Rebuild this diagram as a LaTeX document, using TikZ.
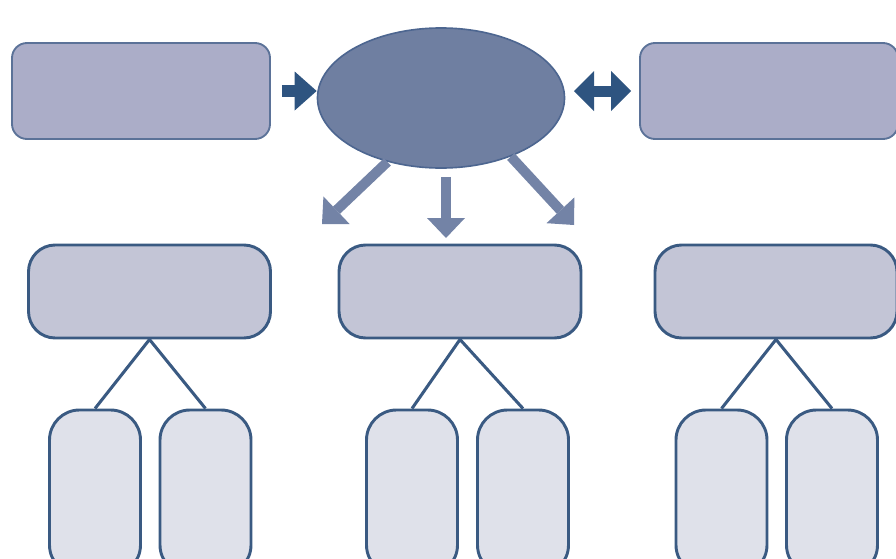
\documentclass[tikz,border=0pt]{standalone}
\usepackage{tikz}
\usetikzlibrary{shapes.geometric,arrows.meta}

\definecolor{topfill}{HTML}{ABADC8}
\definecolor{topline}{HTML}{5B7298}
\definecolor{hubfill}{HTML}{6F7FA1}
\definecolor{hubline}{HTML}{4D6690}
\definecolor{midfill}{HTML}{C3C5D6}
\definecolor{leaffill}{HTML}{DFE1EA}
\definecolor{boxline}{HTML}{3A5A82}
\definecolor{darkarrow}{HTML}{2E5480}
\definecolor{lightarrow}{HTML}{7383A6}

\tikzset{
  topbox/.style={draw=topline, line width=1.6pt, fill=topfill, rounded corners=0.45cm, minimum width=7.74cm, minimum height=2.88cm},
  midbox/.style={draw=boxline, line width=2.5pt, fill=midfill, rounded corners=0.8cm, minimum width=7.26cm, minimum height=2.79cm},
  leafbox/.style={draw=boxline, line width=2.5pt, fill=leaffill, rounded corners=0.9cm, minimum width=2.73cm, minimum height=4.95cm},
  hub/.style={draw=hubline, line width=1.4pt, fill=hubfill, ellipse, inner sep=0pt, minimum width=7.41cm, minimum height=4.2cm},
  bigarrow/.style={draw=darkarrow, line width=0.36cm, -{Triangle[width=1.17cm, length=0.66cm, line width=0pt]}},
  twoarrow/.style={draw=darkarrow, line width=0.33cm, {Triangle[width=1.2cm, length=0.6cm, line width=0pt]}-{Triangle[width=1.2cm, length=0.6cm, line width=0pt]}},
  downarrow/.style={draw=lightarrow, line width=0.3cm, -{Triangle[width=1.14cm, length=0.6cm, line width=0pt]}},
  branch/.style={draw=boxline, line width=2.6pt}
}

\begin{document}
\begin{tikzpicture}[x=0.03cm, y=-0.03cm]
    \useasboundingbox (0,0) rectangle (896,558);

    % Main components
    \node[topbox] (source) at (141,91) {};
    \node[hub] (hub) at (441,98) {};
    \node[topbox] (partner) at (769,91) {};

    \node[midbox] (groupA) at (149.5,291.5) {};
    \node[midbox] (groupB) at (460,291.5) {};
    \node[midbox] (groupC) at (776,291.5) {};

    \node[leafbox] (leafA1) at (95,492.5) {};
    \node[leafbox] (leafA2) at (205.5,492.5) {};
    \node[leafbox] (leafB1) at (412,492.5) {};
    \node[leafbox] (leafB2) at (523,492.5) {};
    \node[leafbox] (leafC1) at (721.5,492.5) {};
    \node[leafbox] (leafC2) at (832,492.5) {};

    % Free ends of the lower arrows
    \coordinate (tipA) at (322,224);
    \coordinate (tipB) at (446,238);
    \coordinate (tipC) at (574,225);

    % Arrows
    \draw[bigarrow, shorten <=0.33cm] (source.east) -- (source.east -| hub.west);
    \draw[twoarrow, shorten <=0.26cm, shorten >=0.24cm] (hub.east |- partner.west) -- (partner.west);
    \draw[downarrow] (hub.230) -- (tipA);
    \draw[downarrow, shorten <=0.24cm] (tipB |- hub.south) -- (tipB);
    \draw[downarrow] (hub.-40) -- (tipC);

    % Branches
    \draw[branch] (leafA1.north) -- (groupA.south) -- (leafA2.north);
    \draw[branch] (leafB1.north) -- (groupB.south) -- (leafB2.north);
    \draw[branch] (leafC1.north) -- (groupC.south) -- (leafC2.north);
\end{tikzpicture}
\end{document}
